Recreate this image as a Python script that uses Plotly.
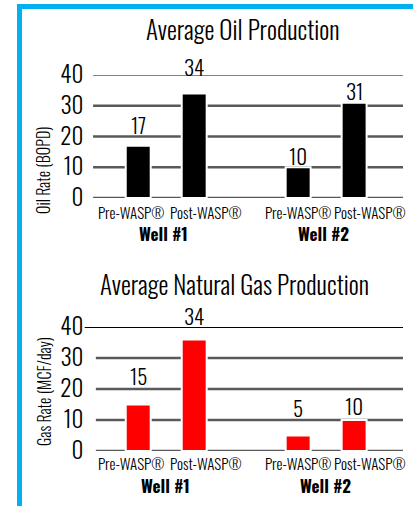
import plotly.graph_objects as go

# ---- data ----
wells = ["Well #1", "Well #2"]
phases = ["Pre-WASP®", "Post-WASP®"]
oil_values = [17, 34, 10, 31]
oil_labels = ["17", "34", "10", "31"]
gas_values = [15, 36, 5, 10]
gas_labels = ["15", "34", "5", "10"]
y_ticks = [0, 10, 20, 30, 40]

oil_title = "Average Oil Production"
gas_title = "Average Natural Gas Production"
oil_ytitle = "Oil Rate (BOPD)"
gas_ytitle = "Gas Rate (MCF/day)"

# ---- layout helpers ----
W, H = 413, 506
FONT = "Oswald, Roboto Condensed, sans-serif"
LIGHT = 300
MED = 350
GROUP_GAP = 0.857  # extra spacing between well groups (category units)

xpos = []
for gi, w in enumerate(wells):
    for pi, p in enumerate(phases):
        xpos.append(gi * (len(phases) + GROUP_GAP) + pi)
group_mid = [gi * (len(phases) + GROUP_GAP) + (len(phases) - 1) / 2 for gi in range(len(wells))]
cat_text = [p for w in wells for p in phases]


def py(px):
    return 1 - px / H


X_RANGE = [-0.79, 4.73]
X_DOM = [94 / W, 403 / W]

fig = go.Figure()
fig.add_trace(go.Bar(x=xpos, y=oil_values, width=0.446, marker=dict(color="black", line=dict(color="white", width=2)),
                     xaxis="x", yaxis="y", hoverinfo="skip"))
fig.add_trace(go.Bar(x=xpos, y=gas_values, width=0.446, marker=dict(color="#FF0000", line=dict(color="white", width=2)),
                     xaxis="x2", yaxis="y2", hoverinfo="skip"))

axis_common = dict(showgrid=False, zeroline=False, showline=False, automargin=False)
tickfont = dict(size=23, family=FONT, color="black", weight=MED)
fig.update_layout(
    width=W, height=H, margin=dict(l=0, r=0, t=0, b=0, pad=0, autoexpand=False),
    paper_bgcolor="white", plot_bgcolor="white", showlegend=False,
    font=dict(family=FONT, color="black", weight=LIGHT),
    xaxis=dict(domain=X_DOM, range=X_RANGE, anchor="y", showticklabels=False, **axis_common),
    xaxis2=dict(domain=X_DOM, range=X_RANGE, anchor="y2", showticklabels=False, **axis_common),
    yaxis=dict(domain=[py(198), py(75)], range=[0, 40], tickvals=y_ticks, anchor="x",
               ticks="outside", ticklen=5, tickcolor="rgba(0,0,0,0)", tickfont=tickfont, **axis_common),
    yaxis2=dict(domain=[py(451), py(327)], range=[0, 40], tickvals=y_ticks, anchor="x2",
                ticks="outside", ticklen=5, tickcolor="rgba(0,0,0,0)", tickfont=tickfont, **axis_common),
)

shapes = []
# gridlines
for t in y_ticks:
    top = t == y_ticks[-1]
    shapes.append(dict(type="line", xref="x domain", yref="y", x0=-0.003, x1=1, y0=t, y1=t,
                       line=dict(color="#595959", width=1.5 if top else 2.5), layer="below"))
    shapes.append(dict(type="line", xref="x2 domain", yref="y2", x0=-0.03 if top else 0.006, x1=1, y0=t, y1=t,
                       line=dict(color="black" if top else "#595959", width=2 if top else 2.5), layer="below"))
# blue frame
shapes.append(dict(type="rect", xref="paper", yref="paper", x0=19.5 / W, x1=1.05, y0=-0.05, y1=py(6.5),
                   line=dict(color="#00B0F0", width=5), fillcolor="rgba(0,0,0,0)"))

ann = []
# titles
ann.append(dict(text=oil_title, x=243 / W, y=py(28), xref="paper", yref="paper", showarrow=False,
                font=dict(size=25, weight=MED), xanchor="center", yanchor="middle"))
ann.append(dict(text=gas_title, x=234 / W, y=py(283), xref="paper", yref="paper", showarrow=False,
                font=dict(size=25, weight=MED), xanchor="center", yanchor="middle"))
# y axis titles
ann.append(dict(text=oil_ytitle, x=43 / W, y=py(171), xref="paper", yref="paper", showarrow=False,
                textangle=-90, font=dict(size=16, weight=MED), xanchor="center", yanchor="middle"))
ann.append(dict(text=gas_ytitle, x=44 / W, y=py(392), xref="paper", yref="paper", showarrow=False,
                textangle=-90, font=dict(size=16, weight=MED), xanchor="center", yanchor="middle"))

# data labels
oil_shift = [21, 27, 12, 12]
gas_shift = [29, 24, 28, 15]
for i in range(len(xpos)):
    ann.append(dict(text=oil_labels[i], x=xpos[i], y=oil_values[i], xref="x", yref="y", showarrow=False,
                    yshift=oil_shift[i], font=dict(size=21, weight=MED), xanchor="center", yanchor="middle"))
    ann.append(dict(text=gas_labels[i], x=xpos[i], y=gas_values[i], xref="x2", yref="y2", showarrow=False,
                    yshift=gas_shift[i], font=dict(size=21, weight=MED), xanchor="center", yanchor="middle"))

# category labels
cat_shift = [-7, 12, 0, 16]
for i in range(len(xpos)):
    ann.append(dict(text=cat_text[i], x=xpos[i], y=py(212), xref="x", yref="paper", showarrow=False,
                    xshift=cat_shift[i], font=dict(size=15), xanchor="center", yanchor="middle"))
    ann.append(dict(text=cat_text[i], x=xpos[i], y=py(463), xref="x2", yref="paper", showarrow=False,
                    xshift=cat_shift[i], font=dict(size=15), xanchor="center", yanchor="middle"))
for gi, w in enumerate(wells):
    ann.append(dict(text=w, x=group_mid[gi], y=py(233), xref="x", yref="paper", showarrow=False,
                    xshift=-3, font=dict(size=17, weight=700), xanchor="center", yanchor="middle"))
    ann.append(dict(text=w, x=group_mid[gi], y=py(485), xref="x2", yref="paper", showarrow=False,
                    xshift=-1, font=dict(size=17, weight=700), xanchor="center", yanchor="middle"))

fig.update_layout(shapes=shapes, annotations=ann)
fig.write_html("out.html", config={"displayModeBar": False},
               post_script="document.body.style.margin='0';")
